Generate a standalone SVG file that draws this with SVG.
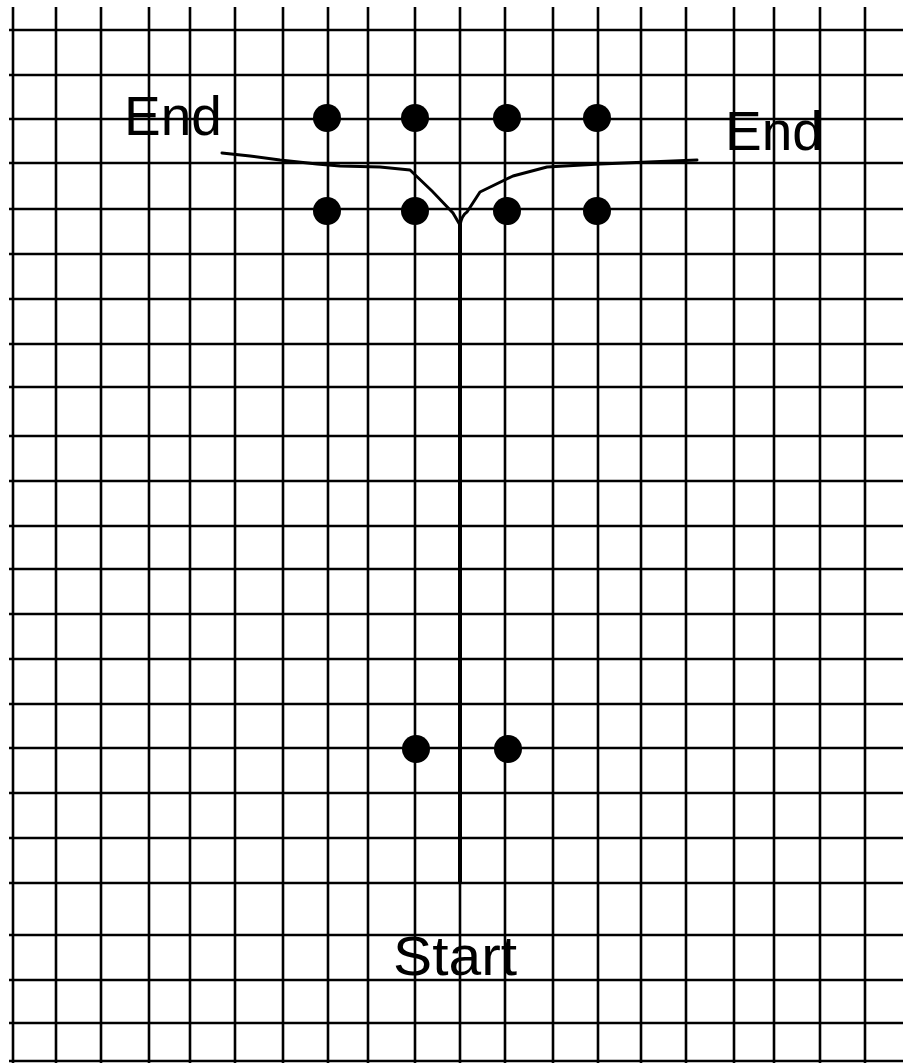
<svg xmlns="http://www.w3.org/2000/svg" width="903" height="1063" viewBox="0 0 903 1063">
<style>
.g line{stroke:#000;stroke-width:2.6}
.dot{fill:#000}
.lbl{font-family:"Liberation Sans",Arial,sans-serif;font-size:55px;fill:#000}
.c{fill:none;stroke:#000;stroke-linejoin:round;stroke-linecap:round}
</style>
<rect width="903" height="1063" fill="#fff"/>
<g id="grid" class="g">
<line x1="13" y1="7" x2="13" y2="1063"/><line x1="56" y1="7" x2="56" y2="1063"/><line x1="101" y1="7" x2="101" y2="1063"/><line x1="149" y1="7" x2="149" y2="1063"/><line x1="190" y1="7" x2="190" y2="1063"/><line x1="235" y1="7" x2="235" y2="1063"/><line x1="283" y1="7" x2="283" y2="1063"/><line x1="328" y1="7" x2="328" y2="1063"/><line x1="368" y1="7" x2="368" y2="1063"/><line x1="415" y1="7" x2="415" y2="1063"/><line x1="460" y1="7" x2="460" y2="1063"/><line x1="505" y1="7" x2="505" y2="1063"/><line x1="553" y1="7" x2="553" y2="1063"/><line x1="598" y1="7" x2="598" y2="1063"/><line x1="641" y1="7" x2="641" y2="1063"/><line x1="686" y1="7" x2="686" y2="1063"/><line x1="734" y1="7" x2="734" y2="1063"/><line x1="774" y1="7" x2="774" y2="1063"/><line x1="820" y1="7" x2="820" y2="1063"/><line x1="865" y1="7" x2="865" y2="1063"/>
<line x1="9" y1="30" x2="903" y2="30"/><line x1="9" y1="75" x2="903" y2="75"/><line x1="9" y1="119" x2="903" y2="119"/><line x1="9" y1="163" x2="903" y2="163"/><line x1="9" y1="209" x2="903" y2="209"/><line x1="9" y1="254" x2="903" y2="254"/><line x1="9" y1="299" x2="903" y2="299"/><line x1="9" y1="344" x2="903" y2="344"/><line x1="9" y1="387" x2="903" y2="387"/><line x1="9" y1="436" x2="903" y2="436"/><line x1="9" y1="481" x2="903" y2="481"/><line x1="9" y1="526" x2="903" y2="526"/><line x1="9" y1="569" x2="903" y2="569"/><line x1="9" y1="614" x2="903" y2="614"/><line x1="9" y1="659" x2="903" y2="659"/><line x1="9" y1="704" x2="903" y2="704"/><line x1="9" y1="748" x2="903" y2="748"/><line x1="9" y1="793" x2="903" y2="793"/><line x1="9" y1="838" x2="903" y2="838"/><line x1="9" y1="883" x2="903" y2="883"/><line x1="9" y1="935" x2="903" y2="935"/><line x1="9" y1="980" x2="903" y2="980"/><line x1="9" y1="1023" x2="903" y2="1023"/><line x1="9" y1="1061" x2="903" y2="1061"/>
</g>
<g id="connectors">
<path class="c" stroke-width="3" d="M222,153 L250,156 L280,160 L317,164 L340,166 L380,167 L410,170 Q432,190 453,213 L460,225"/>
<path class="c" stroke-width="3" d="M460,225 Q462,215 467,212 L480,192 L513,176 L547,167 L600,164 L697,160"/>
<line x1="460" y1="222" x2="460" y2="883" stroke="#000" stroke-width="4"/>
</g>
<g id="dots">
<circle class="dot" cx="327" cy="118" r="14"/><circle class="dot" cx="415" cy="118" r="14"/><circle class="dot" cx="507" cy="118" r="14"/><circle class="dot" cx="597" cy="118" r="14"/>
<circle class="dot" cx="327" cy="211" r="14"/><circle class="dot" cx="415" cy="211" r="14"/><circle class="dot" cx="507" cy="211" r="14"/><circle class="dot" cx="597" cy="211" r="14"/>
<circle class="dot" cx="416" cy="749" r="14"/><circle class="dot" cx="508" cy="749" r="14"/>
</g>
<g id="labels">
<text id="end-left" class="lbl" x="124" y="135">End</text>
<text id="end-right" class="lbl" x="725" y="150">End</text>
<text id="start" class="lbl" x="393" y="975" font-size="52" textLength="124" lengthAdjust="spacingAndGlyphs">Start</text>
</g>
</svg>
